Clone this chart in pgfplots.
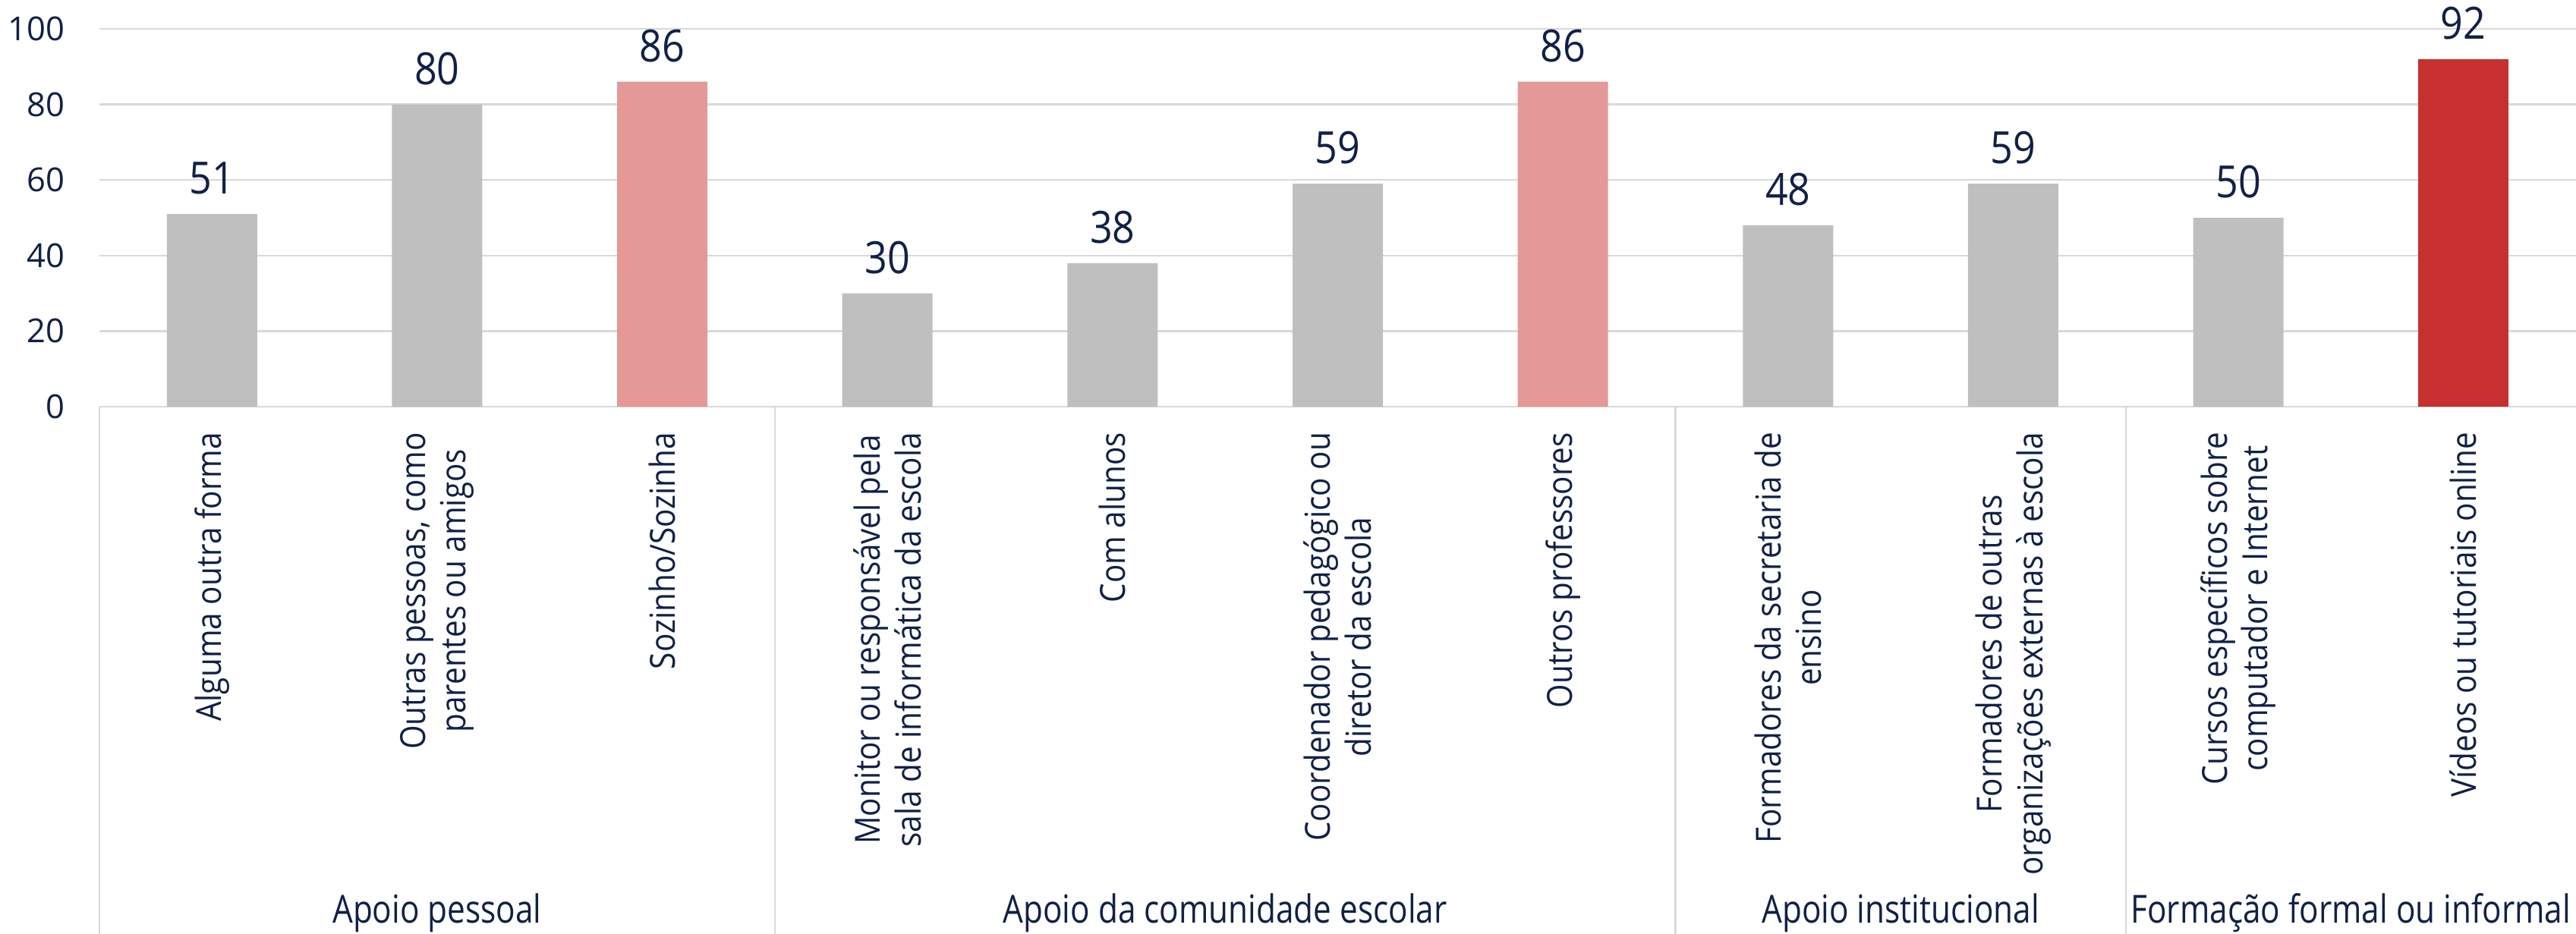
\documentclass[border=0pt]{standalone}
\usepackage{fontspec}
\setmainfont{Open Sans}
\newfontfamily\catfont[FakeStretch=0.89]{Open Sans}
\newfontfamily\grpfont[FakeStretch=0.83]{Open Sans}
\newfontfamily\valfont[FakeStretch=0.89]{Open Sans}
\usepackage{pgfplots}
\pgfplotsset{compat=1.18}

\definecolor{navy}{RGB}{16,32,72}
\definecolor{barGray}{RGB}{191,191,191}
\definecolor{barPink}{RGB}{228,152,152}
\definecolor{barRed}{RGB}{200,48,48}
\definecolor{gridGray}{RGB}{217,217,217}

\begin{document}
\begin{tikzpicture}
  \useasboundingbox (-26.2pt,-138.8pt) rectangle (652.6pt,107.2pt);
  \begin{axis}[
      at={(0,0)}, anchor=south west,
      scale only axis,
      width=652.6pt, height=99.6pt,
      ybar, bar width=23.8pt, bar shift=0pt,
      xmin=-0.5, xmax=10.5, ymin=0, ymax=100,
      enlargelimits=false,
      clip=false,
      axis line style={draw=none},
      major tick length=0pt,
      ymajorgrids, grid style={gridGray, line width=0.5pt},
      ytick={0,20,40,60,80,100},
      xtick={0,...,10},
      xticklabels={
        Alguma outra forma,
        {Outras pessoas, como\\parentes ou amigos},
        Sozinho/Sozinha,
        {Monitor ou responsável pela\\sala de informática da escola},
        Com alunos,
        {Coordenador pedagógico ou\\diretor da escola},
        Outros professores,
        {Formadores da secretaria de\\ensino},
        {Formadores de outras\\organizações externas à escola},
        {Cursos específicos sobre\\computador e Internet},
        Vídeos ou tutoriais online},
      /pgf/number format/assume math mode=true,
      yticklabel style={font=\fontsize{8.7}{10}\selectfont, text=navy, inner sep=0pt, xshift=-9pt},
      xticklabel style={font=\catfont\fontsize{9.1}{10.7}\selectfont, text=navy, rotate=90, anchor=east,
        align=center, inner xsep=6.6pt, inner ysep=0pt},
      nodes near coords,
      every node near coord/.append style={font=\valfont\fontsize{11.7}{13}\selectfont, text=navy,
        anchor=south, inner sep=0pt, yshift=5pt},
    ]
    \addplot[fill=barGray, draw=none] coordinates {
      (0,51) (1,80) (3,30) (4,38) (5,59) (7,48) (8,59) (9,50)};
    \addplot[fill=barPink, draw=none] coordinates {(2,86) (6,86)};
    \addplot[fill=barRed, draw=none] coordinates {(10,92)};

    % group separators
    \draw[gridGray, line width=0.5pt] (axis cs:-0.5,0) -- ([yshift=-140pt]axis cs:-0.5,0);
    \draw[gridGray, line width=0.5pt] (axis cs:2.5,0) -- ([yshift=-140pt]axis cs:2.5,0);
    \draw[gridGray, line width=0.5pt] (axis cs:6.5,0) -- ([yshift=-140pt]axis cs:6.5,0);
    \draw[gridGray, line width=0.5pt] (axis cs:8.5,0) -- ([yshift=-140pt]axis cs:8.5,0);
    % group names
    \node[font=\grpfont\fontsize{10.2}{12}\selectfont, text=navy, anchor=base]
      at ([yshift=-136pt]axis cs:1,0) {Apoio pessoal};
    \node[font=\grpfont\fontsize{10.2}{12}\selectfont, text=navy, anchor=base]
      at ([yshift=-136pt]axis cs:4.5,0) {Apoio da comunidade escolar};
    \node[font=\grpfont\fontsize{10.2}{12}\selectfont, text=navy, anchor=base]
      at ([yshift=-136pt]axis cs:7.5,0) {Apoio institucional};
    \node[font=\grpfont\fontsize{10.2}{12}\selectfont, text=navy, anchor=base]
      at ([yshift=-136pt]axis cs:9.5,0) {Formação formal ou informal};
  \end{axis}
\end{tikzpicture}
\end{document}
